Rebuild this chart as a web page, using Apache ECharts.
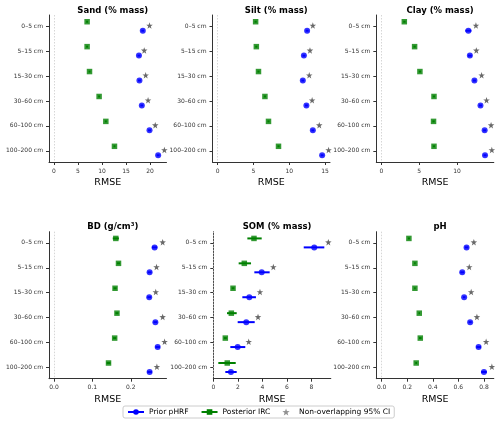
<!DOCTYPE html>
<html>
<head>
<meta charset="utf-8">
<script src="https://cdn.jsdelivr.net/npm/echarts@6/dist/echarts.min.js"></script>
<style>html,body{margin:0;padding:0;background:#fff}#c{width:500px;height:424px}</style>
</head>
<body>
<div id="c"></div>
<script>
// ---------- data ----------
const depths = ['0–5 cm', '5–15 cm', '15–30 cm', '30–60 cm', '60–100 cm', '100–200 cm'];
const panelTitles = ['Sand (% mass)', 'Silt (% mass)', 'Clay (% mass)', 'BD (g/cm³)', 'SOM (% mass)', 'pH'];

// Prior pHRF RMSE and 95% CI
const sandPrior   = [18.5, 17.7, 17.8, 18.3, 19.9, 21.7];
const sandPriorLo = [18.2, 17.4, 17.5, 18.0, 19.6, 21.4];
const sandPriorHi = [18.8, 18.0, 18.1, 18.6, 20.2, 22.0];
const siltPrior   = [12.5, 12.05, 11.9, 12.4, 13.3, 14.6];
const siltPriorLo = [12.3, 11.85, 11.7, 12.2, 13.1, 14.4];
const siltPriorHi = [12.7, 12.25, 12.1, 12.6, 13.5, 14.8];
const clayPrior   = [11.5, 11.7, 12.3, 13.1, 13.65, 13.7];
const clayPriorLo = [11.1, 11.45, 12.1, 12.9, 13.45, 13.5];
const clayPriorHi = [11.9, 11.95, 12.5, 13.3, 13.85, 13.9];
const bdPrior     = [0.262, 0.249, 0.248, 0.264, 0.270, 0.249];
const bdPriorLo   = [0.255, 0.244, 0.243, 0.259, 0.264, 0.243];
const bdPriorHi   = [0.269, 0.254, 0.253, 0.269, 0.276, 0.255];
const somPrior    = [8.24, 3.95, 2.94, 2.69, 1.99, 1.44];
const somPriorLo  = [7.38, 3.35, 2.37, 1.99, 1.39, 0.98];
const somPriorHi  = [9.06, 4.60, 3.48, 3.38, 2.61, 1.91];
const phPrior     = [0.664, 0.630, 0.645, 0.692, 0.758, 0.800];
const phPriorLo   = [0.650, 0.615, 0.635, 0.680, 0.740, 0.778];
const phPriorHi   = [0.678, 0.645, 0.655, 0.704, 0.776, 0.822];

// Posterior IRC RMSE and 95% CI
const sandPost    = [6.9, 6.9, 7.4, 9.4, 10.8, 12.6];
const sandPostLo  = [6.7, 6.7, 7.2, 9.2, 10.6, 12.4];
const sandPostHi  = [7.1, 7.1, 7.6, 9.6, 11.0, 12.8];
const siltPost    = [5.3, 5.4, 5.7, 6.6, 7.1, 8.5];
const siltPostLo  = [5.15, 5.25, 5.55, 6.45, 6.95, 8.35];
const siltPostHi  = [5.45, 5.55, 5.85, 6.75, 7.25, 8.65];
const clayPost    = [3.04, 4.4, 5.1, 6.96, 6.9, 6.96];
const clayPostLo  = [2.9, 4.25, 4.95, 6.8, 6.75, 6.8];
const clayPostHi  = [3.2, 4.55, 5.25, 7.1, 7.05, 7.1];
const bdPost      = [0.161, 0.168, 0.159, 0.164, 0.158, 0.142];
const bdPostLo    = [0.153, 0.164, 0.155, 0.160, 0.154, 0.137];
const bdPostHi    = [0.169, 0.172, 0.163, 0.168, 0.162, 0.147];
const somPost     = [3.32, 2.53, 1.61, 1.47, 0.98, 1.14];
const somPostLo   = [2.78, 2.07, 1.50, 1.12, 0.86, 0.41];
const somPostHi   = [3.95, 3.08, 1.72, 1.91, 1.10, 1.83];
const phPost      = [0.213, 0.260, 0.260, 0.294, 0.302, 0.270];
const phPostLo    = [0.205, 0.254, 0.254, 0.288, 0.292, 0.263];
const phPostHi    = [0.221, 0.266, 0.266, 0.300, 0.312, 0.277];

// Non-overlapping 95% CI markers (null = none)
const sandStar = [19.9, 18.8, 19.1, 19.6, 21.1, 23.0];
const siltStar = [13.3, 12.9, 12.8, 13.2, 14.2, 15.5];
const clayStar = [12.5, 12.55, 13.25, 13.9, 14.5, 14.6];
const bdStar   = [0.283, 0.267, 0.265, 0.283, 0.288, 0.268];
const somStar  = [9.39, 4.9, 3.81, 3.65, 2.89, null];
const phStar   = [0.721, 0.685, 0.70, 0.745, 0.817, 0.862];

// tick labels
const sandTicks = [0, 5, 10, 15, 20];
const siltTicks = [0, 5, 10, 15];
const clayTicks = [0, 5, 10];
const bdTicks   = [0, 0.1, 0.2];
const somTicks  = [0, 2, 4, 6, 8];
const phTicks   = [0, 0.2, 0.4, 0.6, 0.8];

// ---------- layout / style ----------
const panels = [
  {prior: sandPrior, pLo: sandPriorLo, pHi: sandPriorHi, post: sandPost, qLo: sandPostLo, qHi: sandPostHi, star: sandStar, ticks: sandTicks, dec: 0, min: -1.04, max: 23.44},
  {prior: siltPrior, pLo: siltPriorLo, pHi: siltPriorHi, post: siltPost, qLo: siltPostLo, qHi: siltPostHi, star: siltStar, ticks: siltTicks, dec: 0, min: -0.73, max: 15.7},
  {prior: clayPrior, pLo: clayPriorLo, pHi: clayPriorHi, post: clayPost, qLo: clayPostLo, qHi: clayPostHi, star: clayStar, ticks: clayTicks, dec: 0, min: -0.66, max: 14.86},
  {prior: bdPrior, pLo: bdPriorLo, pHi: bdPriorHi, post: bdPost, qLo: bdPostLo, qHi: bdPostHi, star: bdStar, ticks: bdTicks, dec: 1, min: -0.013, max: 0.293},
  {prior: somPrior, pLo: somPriorLo, pHi: somPriorHi, post: somPost, qLo: somPostLo, qHi: somPostHi, star: somStar, ticks: somTicks, dec: 0, min: 0, max: 9.59},
  {prior: phPrior, pLo: phPriorLo, pHi: phPriorHi, post: phPost, qLo: phPostLo, qHi: phPostHi, star: phStar, ticks: phTicks, dec: 1, min: -0.042, max: 0.877}
];
const lefts = [49, 212.5, 376.3, 49, 213.3, 376.3];
const tops = [15, 15, 15, 231.7, 231.7, 231.7];
const GW = 117.5, GH = 147;
const OFF = 0.18;
const BLUE = '#0000ff', GREEN = '#008000', STARC = '#444444';
const FONT = 'DejaVu Sans';
const STAR = 'path://M0,-10L2.35,-3.24L9.51,-3.09L3.8,1.24L5.88,8.09L0,4L-5.88,8.09L-3.8,1.24L-9.51,-3.09L-2.35,-3.24Z';

const grid = [], xAxis = [], yAxis = [], title = [], series = [];

function errRender(params, api) {
  const y = api.value(0), lo = api.value(1), hi = api.value(2);
  const a = api.coord([lo, y]), b = api.coord([hi, y]);
  return {type: 'line', shape: {x1: a[0], y1: a[1], x2: b[0], y2: b[1]},
          style: {stroke: api.visual('color'), lineWidth: 2}};
}

// legend proxy series (empty)
series.push({type: 'line', name: 'Prior pHRF', xAxisIndex: 0, yAxisIndex: 0, data: [],
  color: BLUE, symbol: 'circle', symbolSize: 6, lineStyle: {width: 2, color: BLUE}, itemStyle: {color: BLUE}});
series.push({type: 'line', name: 'Posterior IRC', xAxisIndex: 0, yAxisIndex: 0, data: [],
  color: GREEN, symbol: 'rect', symbolSize: 6, lineStyle: {width: 2, color: GREEN}, itemStyle: {color: GREEN}});
series.push({type: 'scatter', name: 'Non-overlapping 95% CI', xAxisIndex: 0, yAxisIndex: 0, data: [],
  symbol: STAR, symbolSize: 9, itemStyle: {color: '#777'}});

panels.forEach((p, i) => {
  grid.push({left: lefts[i], top: tops[i], width: GW, height: GH, containLabel: false});
  title.push({text: panelTitles[i], left: lefts[i] + GW / 2, top: tops[i] - 14, textAlign: 'center',
    textStyle: {fontFamily: FONT, fontSize: 8.5, fontWeight: 'bold', color: '#000'}});
  xAxis.push({type: 'value', gridIndex: i, min: p.min, max: p.max,
    name: 'RMSE', nameLocation: 'middle', nameGap: 15.5,
    nameTextStyle: {fontFamily: FONT, fontSize: 9.5, color: '#000'},
    axisLine: {show: true, onZero: false, lineStyle: {color: '#333', width: 1}},
    axisTick: {show: true, length: 3, lineStyle: {color: '#333'}, customValues: p.ticks},
    axisLabel: {fontFamily: FONT, fontSize: 6, color: '#333', margin: 6, customValues: p.ticks,
      formatter: v => v.toFixed(p.dec)},
    splitLine: {show: false}});
  yAxis.push({type: 'value', gridIndex: i, inverse: true, min: -0.45, max: 5.45,
    axisLine: {show: true, onZero: false, lineStyle: {color: '#333', width: 1}},
    axisTick: {show: true, length: 3, lineStyle: {color: '#333'}, customValues: [0, 1, 2, 3, 4, 5]},
    axisLabel: {fontFamily: FONT, fontSize: 6, color: '#333', margin: 6, customValues: [0, 1, 2, 3, 4, 5],
      formatter: v => depths[Math.round(v)]},
    splitLine: {show: false}});

  const priorErr = depths.map((d, k) => [k + OFF, p.pLo[k], p.pHi[k]]);
  const postErr = depths.map((d, k) => [k - OFF, p.qLo[k], p.qHi[k]]);
  series.push({type: 'custom', xAxisIndex: i, yAxisIndex: i, renderItem: errRender,
    encode: {x: [1, 2], y: 0}, data: postErr, itemStyle: {color: GREEN}, z: 2, silent: true,
    markLine: {silent: true, symbol: 'none', label: {show: false},
      lineStyle: {color: '#cccccc', type: [1.5, 1.5], width: 0.8}, data: [{xAxis: 0}]}});
  series.push({type: 'custom', xAxisIndex: i, yAxisIndex: i, renderItem: errRender,
    encode: {x: [1, 2], y: 0}, data: priorErr, itemStyle: {color: BLUE}, z: 2, silent: true});
  series.push({type: 'scatter', xAxisIndex: i, yAxisIndex: i, symbol: 'rect', symbolSize: 5.5,
    itemStyle: {color: GREEN}, z: 3, data: p.post.map((v, k) => [v, k - OFF])});
  series.push({type: 'scatter', xAxisIndex: i, yAxisIndex: i, symbol: 'circle', symbolSize: 6,
    itemStyle: {color: BLUE}, z: 3, data: p.prior.map((v, k) => [v, k + OFF])});
  series.push({type: 'scatter', xAxisIndex: i, yAxisIndex: i, symbol: STAR, symbolSize: 6.5,
    itemStyle: {color: STARC}, z: 4,
    data: p.star.map((v, k) => v === null ? null : [v, k - 0.03]).filter(d => d)});
});

const chart = echarts.init(document.getElementById('c'), null, {renderer: 'canvas'});
chart.setOption({
  animation: false,
  backgroundColor: '#fff',
  title, grid, xAxis, yAxis, series,
  legend: {
    data: ['Prior pHRF', 'Posterior IRC', 'Non-overlapping 95% CI'],
    left: 123, top: 406, orient: 'horizontal',
    itemWidth: 16, itemHeight: 7, itemGap: 12,
    padding: [2, 4, 2, 4],
    borderColor: '#cccccc', borderWidth: 1, borderRadius: 2,
    textStyle: {fontFamily: FONT, fontSize: 7.5, color: '#000'},
    selectedMode: false
  }
});
</script>
</body>
</html>
